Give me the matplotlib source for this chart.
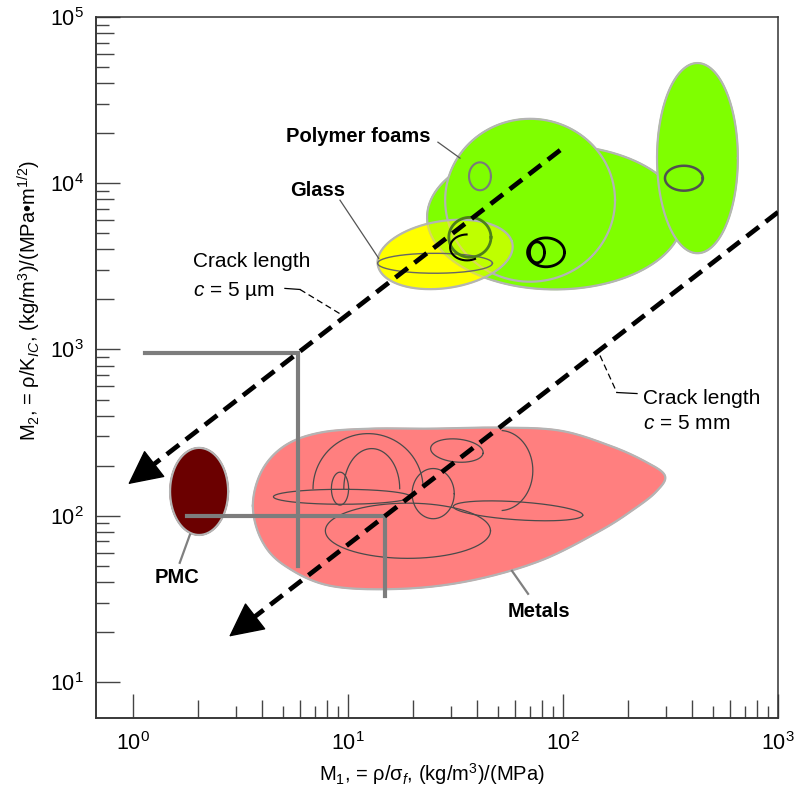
import numpy as np
import matplotlib.pyplot as plt
from matplotlib.ticker import FixedLocator, NullLocator, NullFormatter

plt.rcParams['font.family'] = 'Liberation Sans'
plt.rcParams['mathtext.fontset'] = 'custom'
plt.rcParams['mathtext.rm'] = 'Liberation Sans'
plt.rcParams['mathtext.it'] = 'Liberation Sans:italic'
plt.rcParams['mathtext.bf'] = 'Liberation Sans:bold'

# crack-length guide lines, M2 = ratio * M1
crack_ratio = [163, 6.7]              # c = 5 um, c = 5 mm
crack_start = [97, 1000]              # M1 at the tail of each line
crack_tip = [0.95, 2.8]               # M1 at the arrow tip

# L-shaped markers that sit on the guide lines
corner_m1 = [5.85, 14.9]
corner_left = [1.14, 1.78]
corner_bottom = [50, 33]

# material envelopes: M1 centre, M2 centre, half axes (decades), tilt (deg)
pmc = (2.03, 140, 0.135, 0.262, 0)
foam_lobe = (91.8, 6240, 0.595, 0.434, 0)
foam_circle = (70.3, 7900, 0.395, 0.49, 0)
foam_tall = (422, 14160, 0.188, 0.572, 0)
glass = (28.3, 3730, 0.32, 0.2, 14)

# metals envelope outline
metals_m1 = [3.61, 3.98, 5.09, 7.41, 12.7, 24.1, 50.9, 96.8, 165, 241,
             298, 272, 215, 149, 78.2, 36.9, 17.5, 8.25, 5.09, 3.98]
metals_m2 = [115, 187, 264, 316, 334, 334, 339, 325, 264, 212,
             174, 140, 110, 81.2, 53.5, 40.6, 36.3, 37.9, 50.0, 70.6]

# sub-classes drawn as outlines inside the envelopes
foam_subs = [(41.1, 11010, 0.051, 0.084, 0),
             (365, 10720, 0.088, 0.075, 0)]
foam_loops = [(83.4, 3840, 0.086, 0.087, 0),
              (75.7, 3840, 0.035, 0.063, 0)]
glass_lens = (25.4, 3300, 0.267, 0.06, 0)
glass_loop = (36.9, 4730, 0.098, 0.12, 0)
metal_subs = [(9.18, 145.5, 0.040, 0.099, 0),
              (24.9, 135.8, 0.098, 0.151, 0),
              (32.1, 246.6, 0.123, 0.069, -8),
              (9.38, 130, 0.319, 0.045, 0),
              (61.8, 107, 0.302, 0.054, -5),
              (19.0, 81.2, 0.384, 0.166, 0)]
metal_arcs = [(12.9, 145.5, 0.130, 0.241, 0, 0, np.pi),
              (12.4, 145.5, 0.256, 0.331, 0, 0.05, np.pi),
              (50.9, 187, 0.153, 0.241, 0, -1.5, 1.5)]


def ellipse(cx, cy, a, b, tilt=0, t0=0, t1=2 * np.pi, n=240):
    t = np.linspace(t0, t1, n)
    th = np.radians(tilt)
    u, v = a * np.cos(t), b * np.sin(t)
    lx = np.log10(cx) + u * np.cos(th) - v * np.sin(th)
    ly = np.log10(cy) + u * np.sin(th) + v * np.cos(th)
    return 10 ** lx, 10 ** ly


def closed_spline(xs, ys, n=20):
    # Catmull-Rom through the outline points, done in log space
    P = np.column_stack([np.log10(xs), np.log10(ys)])
    N = len(P)
    t = np.linspace(0, 1, n, endpoint=False)[:, None]
    out = []
    for i in range(N):
        p0, p1, p2, p3 = P[i - 1], P[i], P[(i + 1) % N], P[(i + 2) % N]
        out.append(0.5 * (2 * p1 + (-p0 + p2) * t
                          + (2 * p0 - 5 * p1 + 4 * p2 - p3) * t ** 2
                          + (-p0 + 3 * p1 - 3 * p2 + p3) * t ** 3))
    out = np.vstack(out + [out[0][:1]])
    return 10 ** out[:, 0], 10 ** out[:, 1]


fig = plt.figure(figsize=(7.96, 7.96), dpi=100)
ax = fig.add_axes([96 / 796, 78 / 796, 682 / 796, 701 / 796])
ax.set_xscale('log')
ax.set_yscale('log')
ax.set_xlim(0.673, 1000)
ax.set_ylim(6.07, 1e5)

edge = '#b4b4b4'

# metals
mx, my = closed_spline(metals_m1, metals_m2)
ax.fill(mx, my, color='#ff7f7f', zorder=2)
ax.plot(mx, my, color=edge, lw=1.6, zorder=3)
for e in metal_subs:
    ax.plot(*ellipse(*e), color='#4a4a4a', lw=0.9, zorder=3)
for cx, cy, a, b, tl, t0, t1 in metal_arcs:
    ax.plot(*ellipse(cx, cy, a, b, tl, t0, t1), color='#4a4a4a', lw=0.9, zorder=3)

# PMC
ax.fill(*ellipse(*pmc), color='#6b0000', zorder=2)
ax.plot(*ellipse(*pmc), color=edge, lw=1.6, zorder=3)

# glass underneath, foams on top, glass again half see-through
ax.fill(*ellipse(*glass), color='#ffff00', zorder=2)
for e in (foam_lobe, foam_circle, foam_tall):
    ax.fill(*ellipse(*e), color='#7fff00', zorder=2)
    ax.plot(*ellipse(*e), color=edge, lw=1.6, zorder=2)
ax.fill(*ellipse(*glass), color='#ffff00', alpha=0.5, lw=0, zorder=3)
ax.plot(*ellipse(*glass), color=edge, lw=1.6, zorder=3)
ax.plot(*ellipse(*glass_lens), color='#666666', lw=1, zorder=3)
ax.plot(*ellipse(*glass_loop), color='#4d7f1a', lw=2, zorder=3)
ax.plot(*ellipse(35.8, 4110, 0.079, 0.078, 0, 1.6, 5.2), color='k', lw=1.5, zorder=3)

ax.plot(*ellipse(*foam_subs[0]), color='#7a7a7a', lw=1.5, zorder=3)
ax.plot(*ellipse(*foam_subs[1]), color='#505050', lw=1.8, zorder=3)
for e in foam_loops:
    ax.plot(*ellipse(*e), color='k', lw=2, zorder=3)

# L-shaped markers
for cx, xl, yb, r in zip(corner_m1, corner_left, corner_bottom, crack_ratio):
    cy = r * cx
    ax.plot([xl, cx, cx], [cy, cy, yb], color='#7d7d7d', lw=3,
            solid_joinstyle='miter', zorder=4)

# crack-length guide lines with arrow heads
head = 10 ** 0.11
for x0, x1, r in zip(crack_start, crack_tip, crack_ratio):
    xs = np.array([x0, x1 * head])
    ax.plot(xs, r * xs, color='k', lw=3.4, dashes=(3.3, 1.8),
            dash_capstyle='butt', zorder=5)
    ax.annotate('', xy=(x1, r * x1), xytext=(x1 * head, r * x1 * head),
                arrowprops=dict(arrowstyle='-|>,head_length=1.5,head_width=0.75',
                                mutation_scale=15, fc='k', ec='k', lw=1,
                                shrinkA=0, shrinkB=0), zorder=5)

# leaders for the crack-length notes
ax.plot([5.09, 5.98], [2330, 2296], color='k', lw=0.9, zorder=5)
ax.plot([5.98, 9.28], [2296, 1626], color='k', lw=0.9, dashes=(5, 3), zorder=5)
ax.plot([148.6, 178], [920, 551], color='k', lw=0.9, dashes=(5, 3), zorder=5)
ax.plot([178, 221], [551, 543], color='k', lw=0.9, zorder=5)

# leaders for the material labels
lead = '#808080'
ax.plot([26.2, 33.2], [17660, 14160], color='#555555', lw=0.9, zorder=5)
ax.plot([9.18, 13.9], [7910, 3530], color='#555555', lw=0.9, zorder=5)
ax.plot([1.65, 1.84], [52.1, 76.9], color=lead, lw=1.6, zorder=5)
ax.plot([57.9, 68.8], [46.6, 33.9], color=lead, lw=1.6, zorder=5)

ax.text(24.3, 19190, 'Polymer foams', fontsize=14.5, fontweight='bold',
        ha='right', va='center')
ax.text(7.25, 9080, 'Glass', fontsize=14.5, fontweight='bold', ha='center', va='center')
ax.text(1.60, 42.4, 'PMC', fontsize=14.5, fontweight='bold', ha='center', va='center')
ax.text(77.3, 26.4, 'Metals', fontsize=14.5, fontweight='bold', ha='center', va='center')

ax.text(1.90, 3120, 'Crack length', fontsize=15)
ax.text(1.90, 2085, r'$\mathit{c}$ = 5 µm', fontsize=15)
ax.text(235.6, 473, 'Crack length', fontsize=15)
ax.text(235.6, 334, r'$\mathit{c}$ = 5 mm', fontsize=15)

# axes and ticks
for s in ax.spines.values():
    s.set_color('#333333')
    s.set_linewidth(1.1)

decades_x = [1, 10, 100, 1000]
decades_y = [10, 100, 1000, 1e4, 1e5]
even_x = [m * d for d in decades_x[:-1] for m in (2, 4, 6, 8)]
odd_x = [m * d for d in decades_x[:-1] for m in (3, 5, 7, 9)]
even_y = [m * d for d in decades_y[:-1] for m in (2, 4, 6, 8)]
odd_y = [m * d for d in decades_y[:-1] for m in (3, 5, 7, 9)]

ax.xaxis.set_major_locator(FixedLocator(decades_x))
ax.yaxis.set_major_locator(FixedLocator(decades_y))
ax.xaxis.set_minor_locator(FixedLocator(even_x))
ax.yaxis.set_minor_locator(FixedLocator(even_y))
ax.xaxis.set_minor_formatter(NullFormatter())
ax.yaxis.set_minor_formatter(NullFormatter())
ax.tick_params(which='major', direction='in', length=17.5, width=1,
               color='#444444', labelsize=15.5)
ax.tick_params(axis='x', which='major', pad=10)
ax.tick_params(axis='y', which='major', pad=9)
ax.tick_params(which='minor', direction='in', length=13, width=1, color='#444444')

secx = ax.secondary_xaxis('bottom')
secx.xaxis.set_major_locator(FixedLocator(odd_x))
secx.xaxis.set_minor_locator(NullLocator())
secx.tick_params(direction='in', length=9, width=1, color='#444444', labelbottom=False)
secy = ax.secondary_yaxis('left')
secy.yaxis.set_major_locator(FixedLocator(odd_y))
secy.yaxis.set_minor_locator(NullLocator())
secy.tick_params(direction='in', length=9, width=1, color='#444444', labelleft=False)
for sa in (secx, secy):
    for s in sa.spines.values():
        s.set_color('#333333')
        s.set_linewidth(1.1)

ax.set_xlabel(r'M$_1$, = ρ/σ$_{\mathit{f}}$, (kg/m$^3$)/(MPa)', fontsize=14.5)
ax.set_ylabel(r'M$_2$, = ρ/K$_{\mathit{IC}}$, (kg/m$^3$)/(MPa•m$^{1/2}$)', fontsize=14.5)
ax.xaxis.set_label_coords(0.493, -0.062)
ax.yaxis.set_label_coords(-0.078, 0.596)

fig.savefig('out.png', dpi=100)
